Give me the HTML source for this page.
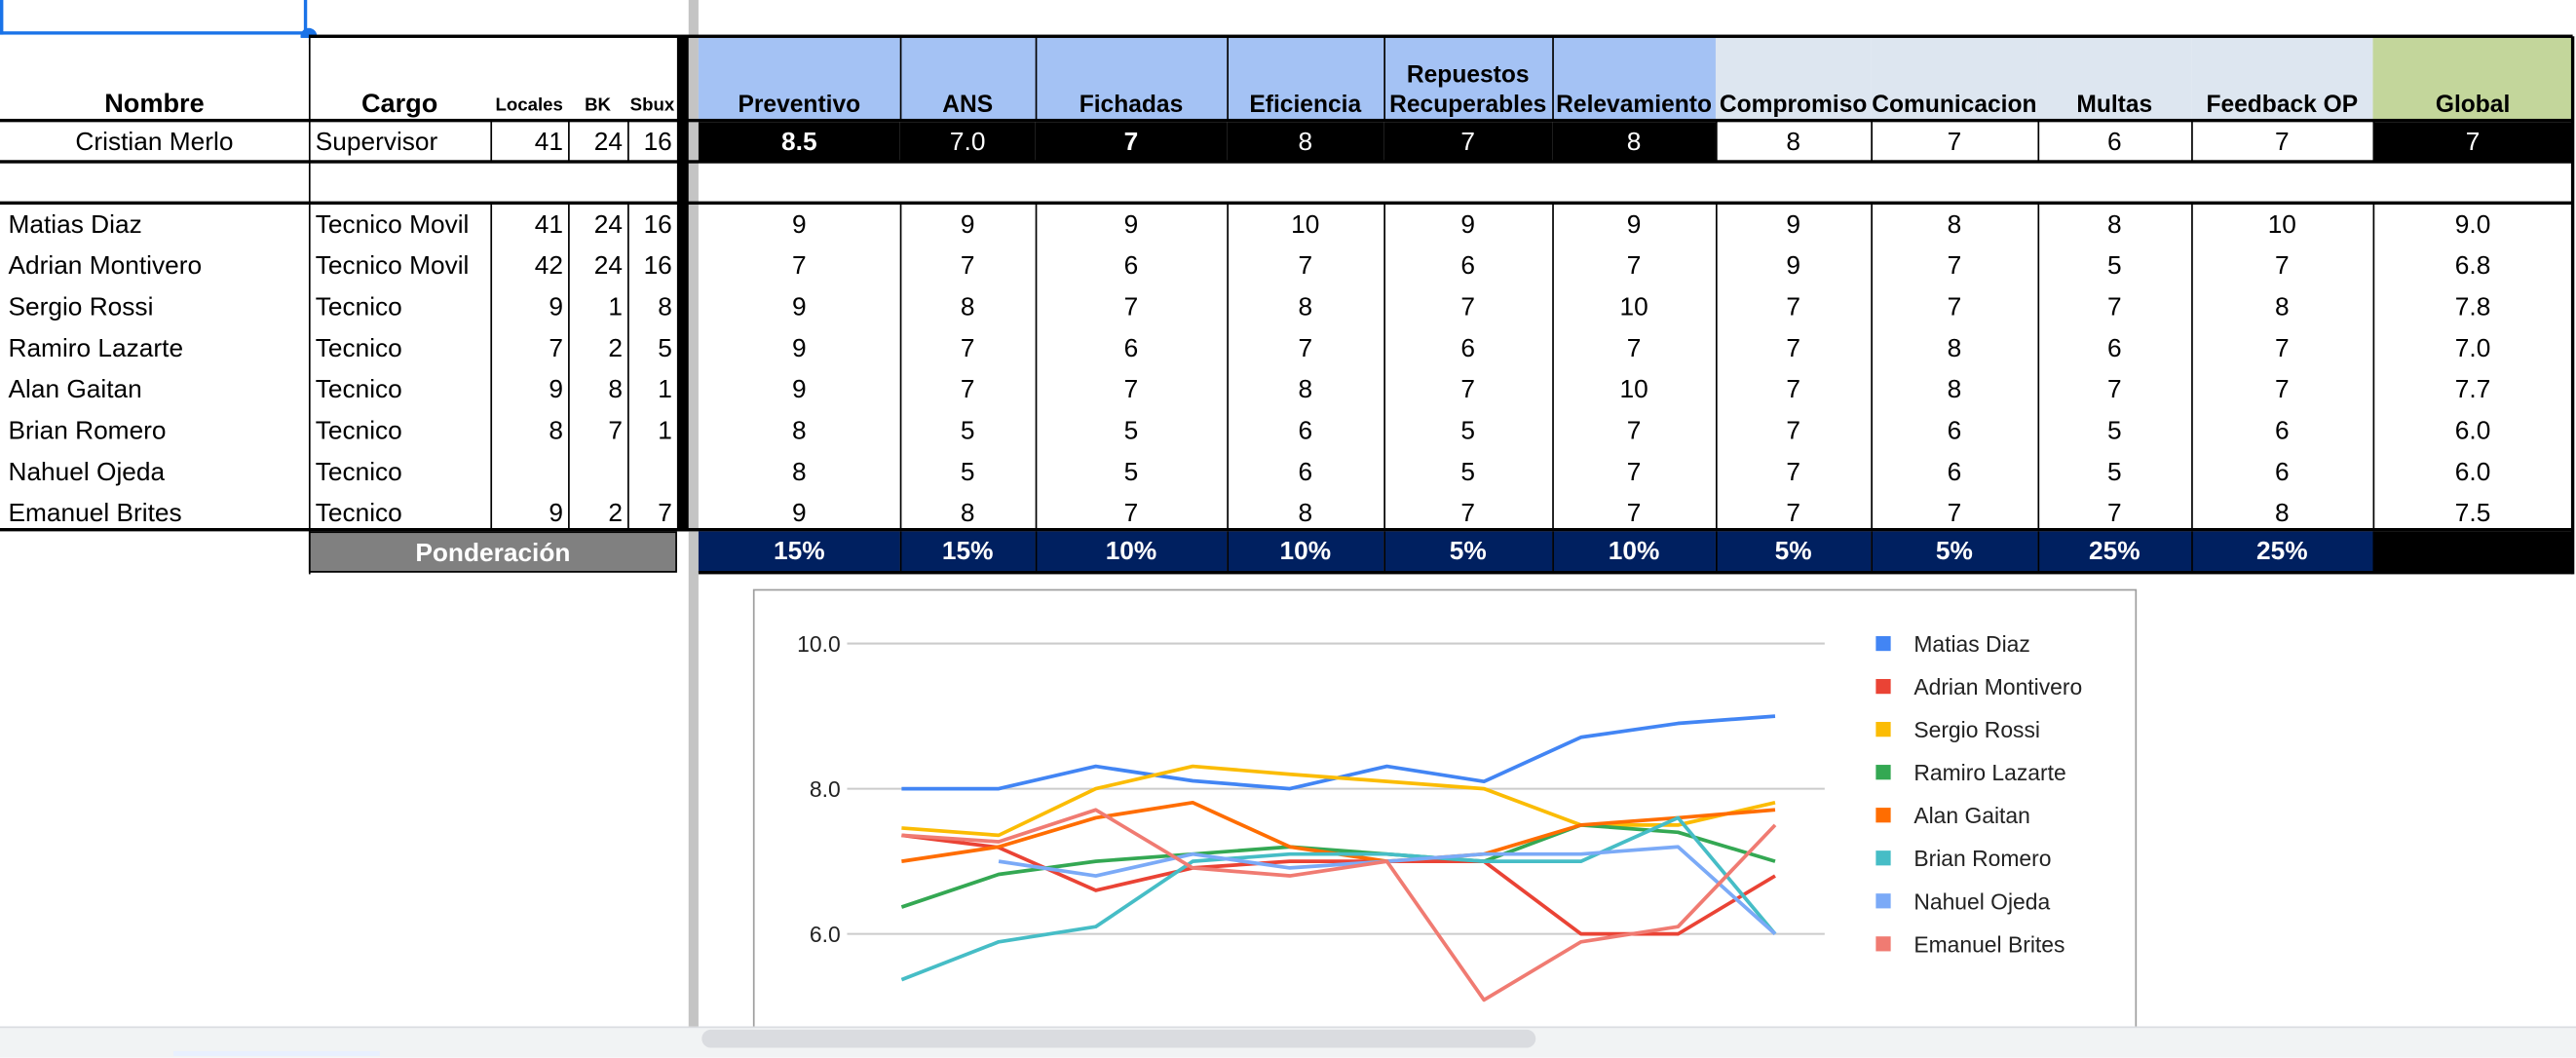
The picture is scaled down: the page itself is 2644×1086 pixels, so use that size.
<!DOCTYPE html>
<html><head><meta charset="utf-8">
<style>
html,body{margin:0;padding:0;background:#fff;overflow:hidden;width:2644px;height:1084px}
#wrap{position:absolute;left:0;top:0;width:1560px;height:640px;transform:scale(1.69487,1.69375);transform-origin:0 0;font-family:"Liberation Sans Narrow","Liberation Sans",sans-serif;}
.c{position:absolute;box-sizing:border-box;font-size:15.5px;line-height:25px;white-space:nowrap;overflow:hidden;color:#000}
.ln{position:absolute;background:#000}
</style></head>
<body>
<div id="wrap">
  <div style="position:absolute;left:0;top:-2px;width:186px;height:23px;border:2px solid #1a73e8;box-sizing:border-box;border-top:none;border-left-width:2px"></div>
  <div style="position:absolute;left:182px;top:17px;width:10px;height:10px;border-radius:50%;background:#1a73e8"></div>
  <div style="position:absolute;left:417px;top:0;width:6px;height:622px;background:#c4c4c4"></div>
  <div id="tbl"></div>
  <svg id="chart" style="position:absolute;left:0;top:0" width="1560" height="640"></svg>
  <div style="position:absolute;left:0;top:622px;width:1560px;height:18px;background:#f1f3f4;border-top:1px solid #dadce0"></div>
  <div style="position:absolute;left:425px;top:624px;width:505px;height:11px;background:#dadce0;border-radius:6px"></div>
  <div style="position:absolute;left:105px;top:637px;width:125px;height:3px;background:#e8f0fe"></div>
</div>
<script>
const colEdges=[0,187,297,344,380,410,423,545,627,743,838,940,1039,1133,1234,1327,1437,1558];
const headers=["Nombre","Cargo","Locales","BK","Sbux","","Preventivo","ANS","Fichadas","Eficiencia","Repuestos<br>Recuperables","Relevamiento","Compromiso","Comunicacion","Multas","Feedback OP","Global"];
const supervisor=["Cristian Merlo","Supervisor","41","24","16","","8.5","7.0","7","8","7","8","8","7","6","7","7"];
const names=["Matias Diaz","Adrian Montivero","Sergio Rossi","Ramiro Lazarte","Alan Gaitan","Brian Romero","Nahuel Ojeda","Emanuel Brites"];
const cargos=["Tecnico Movil","Tecnico Movil","Tecnico","Tecnico","Tecnico","Tecnico","Tecnico","Tecnico"];
const locales=[["41","24","16"],["42","24","16"],["9","1","8"],["7","2","5"],["9","8","1"],["8","7","1"],["","",""],["9","2","7"]];
const scores=[
[9,9,9,10,9,9,9,8,8,10,"9.0"],
[7,7,6,7,6,7,9,7,5,7,"6.8"],
[9,8,7,8,7,10,7,7,7,8,"7.8"],
[9,7,6,7,6,7,7,8,6,7,"7.0"],
[9,7,7,8,7,10,7,8,7,7,"7.7"],
[8,5,5,6,5,7,7,6,5,6,"6.0"],
[8,5,5,6,5,7,7,6,5,6,"6.0"],
[9,8,7,8,7,7,7,7,7,8,"7.5"]];
const weights=["15%","15%","10%","10%","5%","10%","5%","5%","25%","25%"];

const T=document.getElementById('tbl');
function cell(x,y,w,h,html,st,name){
  const d=document.createElement('div');d.className='c';
  d.style.cssText+=`left:${x}px;top:${y}px;width:${w}px;height:${h}px;`+(st||'');
  d.innerHTML=html;
  
  
  T.appendChild(d);return d;
}
function line(x,y,w,h,name){const d=document.createElement('div');d.className='ln';d.style.cssText=`left:${x}px;top:${y}px;width:${w}px;height:${h}px`;


T.appendChild(d);}
function slug(s){return String(s).toLowerCase().replace(/<br>/g,' ').replace(/[^a-z0-9]+/g,'-').replace(/^-|-$/g,'');}
// header
for(let i=0;i<headers.length;i++){
  if(i===5)continue;
  const x=colEdges[i],w=colEdges[i+1]-x;
  let bg='#fff';if(i>=6&&i<=11)bg='#a4c2f4';if(i>=12&&i<=15)bg='#dde6f0';if(i===16)bg='#c3d69b';
  let fs=(i>=2&&i<=4)?'font-size:11px;':'font-size:14.5px;';
  if(i<2)fs='font-size:16px;';
  cell(x,23,w,50,`<div style="position:absolute;bottom:0;left:0;right:0;text-align:center;line-height:18px">${headers[i]}</div>`,`background:${bg};font-weight:bold;${fs}`,'header-'+slug(headers[i]));
}
// supervisor row
for(let i=0;i<supervisor.length;i++){
  if(i===5)continue;
  const x=colEdges[i],w=colEdges[i+1]-x;
  let st='text-align:center;';
  if(i===1)st='text-align:left;padding-left:4px;';
  if(i>=2&&i<=4)st='text-align:right;padding-right:3px;';
  if((i>=6&&i<=11)||i===16)st+='background:#000;color:#fff;';
  if(i===6||i===8)st+='font-weight:bold;';
  cell(x,74,w,24,supervisor[i],st,'supervisor-'+slug(headers[i]));
}
// data rows
for(let r=0;r<names.length;r++){
  const y=124+r*25;
  cell(0,y,187,25,names[r],'padding-left:5px;','name-'+slug(names[r]));
  cell(187,y,110,25,cargos[r],'padding-left:4px;','cargo-'+slug(names[r]));
  for(let k=0;k<3;k++){cell(colEdges[2+k],y,colEdges[3+k]-colEdges[2+k],25,locales[r][k],'text-align:right;padding-right:3px;','count-'+slug(headers[2+k])+'-'+slug(names[r]));}
  for(let k=0;k<11;k++){cell(colEdges[6+k],y,colEdges[7+k]-colEdges[6+k],25,scores[r][k],'text-align:center;','score-'+slug(headers[6+k])+'-'+slug(names[r]));}
}
// ponderacion
cell(187,322,223,25,'Ponderación','background:#808080;color:#fff;font-weight:bold;text-align:center;border:1px solid #000;','ponderacion-label');
for(let k=0;k<10;k++){cell(colEdges[6+k],322,colEdges[7+k]-colEdges[6+k],25,weights[k],'background:#002060;color:#fff;font-weight:bold;text-align:center;','weight-'+slug(headers[6+k]));}
cell(1437,322,121,25,'','background:#000;','weight-global');
// lines
line(187,21,1371,2,'top-border');
line(0,72,1558,2,'header-bottom-border');
line(0,97,1558,2,'supervisor-bottom-border');
line(0,122,1558,2,'gap-bottom-border');
line(0,320,1558,2,'data-bottom-border');
line(423,346,1135,2,'weights-bottom-border');
line(410,22,7,300,'thick-divider');
line(1557,22,2,326,'right-border');
for(let i=1;i<colEdges.length-1;i++){
  const x=colEdges[i]; if(i===5||i===6)continue;
  if(i>=12&&i<=16){line(x,73,1,25,'vline-sup-'+i);}
  if(i===1){line(x,22,1,326,'vline-'+i);}
  else if(i>=2&&i<=4){line(x,73,1,25,'vline-sup-'+i);line(x,123,1,198,'vline-'+i);}
  else {line(x,123,1,198,'vline-'+i);if(i>=7&&i<=11)line(x,22,1,51,'vline-h-'+i);if(i>=7)line(x,322,1,25,'vline-w-'+i);}
}
</script>
<script>
// ---- chart ----
const chartCategories=["Preventivo","ANS","Fichadas","Eficiencia","Repuestos","Relevamiento","Compromiso","Comunicacion","Multas","Feedback OP"];
const seriesNames=["Matias Diaz","Adrian Montivero","Sergio Rossi","Ramiro Lazarte","Alan Gaitan","Brian Romero","Nahuel Ojeda","Emanuel Brites"];
const seriesColors=["#4285f4","#ea4335","#fbbc04","#34a853","#ff6d01","#46bdc6","#7baaf7","#f07b72"];
const matias=[8.0,8.0,8.31,8.11,8.0,8.31,8.10,8.71,8.90,9.0];
const adrian=[7.36,7.19,6.6,6.91,7.0,7.0,7.0,6.0,6.0,6.8];
const sergio=[7.46,7.36,8.0,8.31,8.2,8.1,8.0,7.5,7.5,7.81];
const ramiro=[6.37,6.82,7.0,7.1,7.2,7.1,7.0,7.5,7.4,7.0];
const alan=[7.0,7.2,7.6,7.81,7.2,7.0,7.1,7.5,7.6,7.71];
const brian=[5.37,5.89,6.1,7.0,7.1,7.1,7.0,7.0,7.6,6.0];
const nahuel=[null,7.0,6.8,7.1,6.91,7.0,7.1,7.1,7.2,6.0];
const emanuel=[7.36,7.27,7.71,6.91,6.8,7.0,5.09,5.89,6.1,7.5];
const yTicks=[6,8,10];
const yTickLabels=["6.0","8.0","10.0"];
const allSeries=[matias,adrian,sergio,ramiro,alan,brian,nahuel,emanuel];

const NS='http://www.w3.org/2000/svg';
const svg=document.getElementById('chart');
function xs(i){return 546+i*(1075-546)/(chartCategories.length-1);}
function ys(v){return 478-44*(v-8);}
function el(t,a){const e=document.createElementNS(NS,t);for(const k in a)e.setAttribute(k,a[k]);svg.appendChild(e);return e;}
const frame=el('rect',{x:456.5,y:357.5,width:837,height:300,fill:'#fff',stroke:'#9e9e9e','stroke-width':1});


yTicks.forEach((t,i)=>{
  const g=el('line',{x1:513,x2:1105,y1:ys(t),y2:ys(t),stroke:'#cccccc','stroke-width':1.2});
  
  
  const tx=el('text',{x:509,y:ys(t)+5,'text-anchor':'end','font-size':13.5,'font-family':'Liberation Sans, sans-serif',fill:'#222'});
  tx.textContent=yTickLabels[i];
  
  
});
allSeries.forEach((s,si)=>{
  let d='';let pen=false;
  s.forEach((v,i)=>{if(v===null){pen=false;return;}d+=(pen?'L':'M')+xs(i).toFixed(1)+' '+ys(v).toFixed(1)+' ';pen=true;});
  const p=el('path',{d:d,fill:'none',stroke:seriesColors[si],'stroke-width':2.2,'stroke-linejoin':'round'});
  
  
  const ly=390+si*26;
  const sq=el('rect',{x:1136,y:ly-4.5,width:9,height:9,fill:seriesColors[si]});
  
  
  const lt=el('text',{x:1159,y:ly+5,'font-size':13.5,'font-family':'Liberation Sans, sans-serif',fill:'#222'});
  lt.textContent=seriesNames[si];
  
  
});
</script>
</body></html>
